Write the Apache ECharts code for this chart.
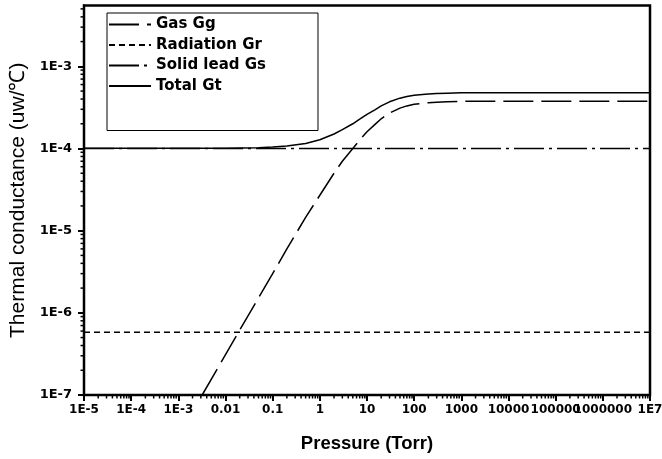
<!DOCTYPE html>
<html>
<head>
<meta charset="utf-8">
<script src="https://cdn.jsdelivr.net/npm/echarts/dist/echarts.min.js"></script>
<style>
html, body { margin: 0; padding: 0; background: #fff; }
#chart { width: 662px; height: 459px; }
</style>
</head>
<body>
<div id="chart"></div>
<script>
// Conductance paths versus chamber pressure (uW/°C vs Torr)
const gasPressure      = [3.2e-3, 0.01, 0.03, 0.1, 0.2, 0.5, 1, 2, 3, 5, 7, 10, 15, 20, 30, 50, 70, 100, 150, 200, 300, 500, 1000, 1e4, 1e7];
const gasConductance   = [1e-7, 3.1e-7, 9.2e-7, 3.0e-6, 6.0e-6, 1.45e-5, 2.7e-5, 5.0e-5, 7.0e-5, 1.0e-4, 1.27e-4, 1.6e-4, 1.98e-4, 2.3e-4, 2.7e-4, 3.1e-4, 3.3e-4, 3.45e-4, 3.55e-4, 3.6e-4, 3.66e-4, 3.7e-4, 3.75e-4, 3.75e-4, 3.75e-4];

const radiationPressure    = [1e-5, 1e7];
const radiationConductance = [5.8e-7, 5.8e-7];

const solidPressure    = [1e-5, 1e7];
const solidConductance = [1e-4, 1e-4];

const totalPressure    = [1e-5, 0.01, 0.05, 0.1, 0.2, 0.5, 1, 2, 3, 5, 7, 10, 15, 20, 30, 50, 70, 100, 150, 200, 300, 500, 1000, 1e4, 1e7];
const totalConductance = [1.006e-4, 1.01e-4, 1.02e-4, 1.04e-4, 1.07e-4, 1.15e-4, 1.28e-4, 1.5e-4, 1.7e-4, 2.0e-4, 2.27e-4, 2.6e-4, 2.98e-4, 3.3e-4, 3.7e-4, 4.1e-4, 4.3e-4, 4.45e-4, 4.55e-4, 4.6e-4, 4.66e-4, 4.7e-4, 4.76e-4, 4.76e-4, 4.76e-4];

const seriesNames = ['Gas Gg', 'Radiation Gr', 'Solid lead Gs', 'Total Gt'];

const xTickLabels = ['1E-5', '1E-4', '1E-3', '0.01', '0.1', '1', '10', '100', '1000', '10000', '100000', '1000000', '1E7'];
const yTickLabels = ['1E-7', '1E-6', '1E-5', '1E-4', '1E-3'];

const X_MIN = 1e-5, X_MAX = 1e7;
const Y_MIN = 1e-7, Y_MAX = 5.5e-3;

const pairs = (xs, ys) => xs.map((x, i) => [x, ys[i]]);

// label only whole decades
function decadeLabel(labels, firstExp) {
  return function (v) {
    const e = Math.log10(v);
    const r = Math.round(e);
    if (Math.abs(e - r) > 1e-6) return '';
    return labels[r - firstExp] || '';
  };
}

// minor tick positions at 2..9 of each decade
const minorTicks = [];
for (let k = -5; k < 7; k++) {
  for (let m = 2; m <= 9; m++) minorTicks.push([m * Math.pow(10, k), Y_MIN, 0]);
}
for (let k = -7; k < -2; k++) {
  for (let m = 2; m <= 9; m++) {
    const v = m * Math.pow(10, k);
    if (v < Y_MAX) minorTicks.push([X_MIN, v, 1]);
  }
}

const chart = echarts.init(document.getElementById('chart'), null, { renderer: 'canvas' });

const wideBold = { fontFamily: 'DejaVu Sans, sans-serif', fontWeight: 'bold', color: '#000' };
const hiddenMarker = { color: '#000', opacity: 0 };

chart.setOption({
  animation: false,
  backgroundColor: '#fff',
  grid: {
    left: 84, right: 12, top: 5.5, bottom: 64,
    containLabel: false, outerBoundsMode: 'none',
    show: true, borderColor: '#000', borderWidth: 2.5, backgroundColor: 'transparent'
  },
  legend: {
    orient: 'vertical',
    left: 107, top: 13,
    padding: [4, 52, 37, 1],
    itemWidth: 42, itemHeight: 14, itemGap: 5.5,
    borderColor: '#000', borderWidth: 1,
    itemStyle: { opacity: 0 },
    data: seriesNames,
    textStyle: Object.assign({ fontSize: 15 }, wideBold)
  },
  xAxis: {
    type: 'log', logBase: 10, min: X_MIN, max: X_MAX, interval: 1,
    name: 'Pressure (Torr)', nameLocation: 'middle', nameGap: 39,
    nameTextStyle: { fontSize: 18.5, fontFamily: 'Liberation Sans, Arial, sans-serif', fontWeight: 'bold', color: '#000' },
    axisLine: { lineStyle: { color: '#000', width: 2 } },
    axisTick: { show: true, length: 6, inside: false, lineStyle: { color: '#000', width: 2 } },
    axisLabel: Object.assign({ fontSize: 12, margin: 9, hideOverlap: false, showMinLabel: true, showMaxLabel: true,
      interval: 0, formatter: decadeLabel(xTickLabels, -5) }, wideBold),
    splitLine: { show: false }
  },
  yAxis: {
    type: 'log', logBase: 10, min: Y_MIN, max: Y_MAX, interval: 1,
    name: 'Thermal conductance (uw/℃)', nameLocation: 'middle', nameGap: 54, nameRotate: 90,
    nameTextStyle: { fontSize: 21, fontFamily: 'Liberation Sans, Arial, sans-serif', color: '#000' },
    axisLine: { lineStyle: { color: '#000', width: 2 } },
    axisTick: { show: true, length: 6, inside: false, lineStyle: { color: '#000', width: 2 } },
    axisLabel: Object.assign({ fontSize: 13, margin: 12, showMaxLabel: false, interval: 0,
      formatter: decadeLabel(yTickLabels, -7) }, wideBold),
    splitLine: { show: false }
  },
  series: [
    {
      name: 'Gas Gg', type: 'line', data: pairs(gasPressure, gasConductance),
      symbol: 'none', clip: true, itemStyle: hiddenMarker,
      lineStyle: { color: '#000', width: 1.5, type: [30, 8] }, z: 3
    },
    {
      name: 'Radiation Gr', type: 'line', data: pairs(radiationPressure, radiationConductance),
      symbol: 'none', itemStyle: hiddenMarker,
      lineStyle: { color: '#000', width: 1.5, type: [6, 4] }, z: 2
    },
    {
      name: 'Solid lead Gs', type: 'line', data: pairs(solidPressure, solidConductance),
      symbol: 'none', itemStyle: hiddenMarker,
      lineStyle: { color: '#000', width: 1.5, type: [30, 5, 3, 5] }, z: 2
    },
    {
      name: 'Total Gt', type: 'line', data: pairs(totalPressure, totalConductance),
      symbol: 'none', itemStyle: hiddenMarker,
      lineStyle: { color: '#000', width: 1.5, type: 'solid' }, z: 4
    },
    {
      // short outward minor ticks on both axes
      type: 'custom', silent: true, clip: false, z: 5,
      encode: { x: 0, y: 1 },
      data: minorTicks,
      renderItem: function (params, api) {
        const p = api.coord([api.value(0), api.value(1)]);
        const horizontal = api.value(2) === 1;
        return {
          type: 'line',
          shape: horizontal
            ? { x1: p[0] - 3.5, y1: p[1], x2: p[0], y2: p[1] }
            : { x1: p[0], y1: p[1], x2: p[0], y2: p[1] + 3.5 },
          style: { stroke: '#000', lineWidth: 1.5 }
        };
      }
    }
  ]
});
</script>
</body>
</html>
